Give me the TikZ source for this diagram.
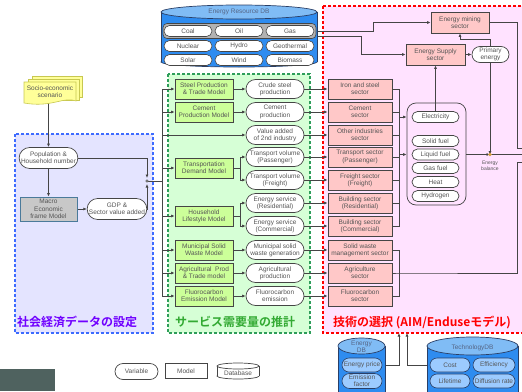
\documentclass[tikz,border=0pt]{standalone}
\usepackage{fontspec}
\setmainfont{Liberation Sans}
\newfontfamily\jpfont{Noto Sans CJK JP}[BoldFont={Noto Sans CJK JP Bold}]
\usetikzlibrary{shapes.misc,arrows.meta,calc}
\definecolor{txtgray}{HTML}{555555}
\definecolor{edge}{HTML}{454545}
\definecolor{modelg}{HTML}{CCFF99}
\definecolor{secpink}{HTML}{FFC8C8}
\definecolor{blueR}{HTML}{3D6BFF}
\definecolor{blueF}{HTML}{E4E4FF}
\definecolor{greenR}{HTML}{2E9E5A}
\definecolor{greenF}{HTML}{D6FFD6}
\definecolor{redR}{HTML}{FF0000}
\definecolor{redF}{HTML}{FFE2FF}
\definecolor{dbblue}{HTML}{2E8CF0}
\definecolor{dbtop}{HTML}{80BCF5}
\definecolor{dbedge}{HTML}{2A3F66}
\definecolor{dblight}{HTML}{9CCBFF}
\definecolor{docY}{HTML}{FFFF99}
\definecolor{docE}{HTML}{C8C850}
\definecolor{macroF}{HTML}{C8C8C8}
\definecolor{macroE}{HTML}{4A7A9A}
\definecolor{photo}{HTML}{4F625F}
\definecolor{jpPurple}{HTML}{7000FF}
\definecolor{jpGreen}{HTML}{33AA33}
\definecolor{ebc}{HTML}{D4A040}
\pgfdeclarelayer{bg}
\pgfdeclarelayer{links}
\pgfsetlayers{bg,links,main}
\begin{document}
\begin{tikzpicture}[x=1pt,y=-1pt,
  base/.style={font=\fontsize{6.5}{7.3}\selectfont, text=txtgray, align=center, inner sep=0pt},
  var/.style={base, rounded rectangle, draw=edge, fill=white, line width=0.7pt, minimum width=58pt, minimum height=19pt},
  model/.style={base, rectangle, draw=edge, fill=modelg, line width=0.7pt, minimum width=58pt, minimum height=20pt},
  sector/.style={base, rectangle, draw=edge, fill=secpink, line width=0.7pt, minimum width=64pt, minimum height=20pt},
  fuel/.style={base, rounded rectangle, draw=edge, fill=white, line width=0.7pt, minimum width=47pt, minimum height=11pt},
  respill/.style={base, rounded rectangle, draw=edge, fill=white, line width=0.6pt, minimum width=48pt, minimum height=11pt},
  dbpill/.style={base, rounded rectangle, draw=dbedge, fill=dblight, line width=0.6pt, minimum width=40pt, minimum height=14pt},
  arr/.style={draw=edge, line width=0.7pt, -{Latex[length=3.5pt,width=3pt]}},
  link/.style={draw=edge, line width=0.7pt},
  region/.style={line width=1.2pt, dash pattern=on 3pt off 2pt},
  jp/.style={anchor=west, inner sep=0pt, font=\jpfont\bfseries\fontsize{12}{12}\selectfont}
]
\useasboundingbox (0,0) rectangle (522,391);

% regions
\begin{pgfonlayer}{bg}
\draw[region, draw=blueR, fill=blueF] (15,134) rectangle (153,333);
\draw[region, draw=greenR, fill=greenF] (168,74) rectangle (310,333);
\draw[region, draw=redR, fill=redF] (323,6) rectangle (545,333);
\end{pgfonlayer}

\node[jp, text=jpPurple] at (17,322) {社会経済データの設定};
\node[jp, text=jpGreen] at (175,322) {サービス需要量の推計};
\node[jp, text=redR] at (333,322) {技術の選択 (AIM/Enduseモデル)};

% photo fragment
\fill[photo] (0,369) rectangle (55,391);

% socio-economic scenario (stacked documents)
\draw[fill=docY, draw=docE, line width=0.6pt] (32,76) rectangle (82,97);
\draw[fill=docY, draw=docE, line width=0.6pt] (28,79) rectangle (79,100);
\draw[fill=docY, draw=docE, line width=0.6pt] (24,82) -- (76,82) -- (76,101) .. controls (64,96) and (52,108) .. (24,103) -- cycle;
\node[base] (scen) at (50,92) {Socio-economic\\scenario};

% socio-economic block
\node[var, minimum width=57pt, minimum height=21pt] (pop) at (48.5,158) {Population \&\\Household number};
\node[base, rectangle, draw=macroE, fill=macroF, line width=0.8pt, minimum width=57pt, minimum height=24pt] (macro) at (48.5,209) {Macro\\Economic\\frame Model};
\node[var, minimum height=21pt] (gdp) at (117,209) {GDP \&\\Sector value added};
\coordinate (j) at (147,181);
\coordinate (jt) at (147,178);
\coordinate (jb) at (147,184);
\coordinate (busT) at (162,89);
\coordinate (busB) at (162,296);

% Energy resource DB
\draw[fill=dbblue, draw=dbedge, line width=0.7pt] (239,62) ellipse [x radius=78pt, y radius=5pt];
\fill[dbblue] (161,12) rectangle (317,62);
\draw[dbedge, line width=0.7pt] (161,12) -- (161,62) (317,12) -- (317,62);
\draw[fill=dbtop, draw=dbedge, line width=0.7pt] (239,12) ellipse [x radius=78pt, y radius=7pt];
\node[base, text=dbedge!80] at (239,12) {Energy Resource DB};
\node[draw=edge, fill=gray!60, line width=0.6pt, rounded corners=4pt, minimum width=153pt, minimum height=15pt, inner sep=0pt] (row1) at (239.5,31) {};
\node[respill] at (188,31) {Coal};
\node[respill] at (239,31) {Oil};
\node[respill] at (290,31) {Gas};
\node[respill] at (188,46) {Nuclear};
\node[respill] at (239,46) {Hydro};
\node[respill] at (290,46) {Geothermal};
\node[respill] at (188,60) {Solar};
\node[respill] at (239,60) {Wind};
\node[respill] at (290,60) {Biomass};

% models
\node[model] (steelM) at (204,89) {Steel Production\\\& Trade Model};
\node[model] (cementM) at (204,112) {Cement\\Production Model};
\node[model] (transM) at (204,168) {Transportation\\Demand Model};
\node[model] (houseM) at (204,216) {Household\\Lifestyle Model};
\node[model] (mswM) at (204,250) {Municipal Solid\\Waste Model};
\node[model] (agriM) at (204,273) {Agricultural\ \ Prod\\\& Trade model};
\node[model] (fluoroM) at (204,296) {Fluorocarbon\\Emission Model};

% variables
\node[var] (crude) at (275,89) {Crude steel\\production};
\node[var] (cementP) at (275,112) {Cement\\production};
\node[var] (valueP) at (275,135) {Value added\\of 2nd industry};
\node[var] (tpP) at (275,157) {Transport volume\\(Passenger)};
\node[var] (tfP) at (275,180) {Transport volume\\(Freight)};
\node[var] (erP) at (275,203) {Energy service\\(Residential)};
\node[var] (ecP) at (275,226) {Energy service\\(Commercial)};
\node[var] (mswP) at (275,250) {Municipal solid\\waste generation};
\node[var] (agriP) at (275,273) {Agricultural\\production};
\node[var] (fluoroP) at (275,296) {Fluorocarbon\\emission};

% sectors
\node[sector] (ironS) at (360,89) {Iron and steel\\sector};
\node[sector] (cementS) at (360,112) {Cement\\sector};
\node[sector] (otherS) at (360,135) {Other industries\\sector};
\node[sector] (tpS) at (360,157) {Transport sector\\(Passenger)};
\node[sector] (frS) at (360,180) {Freight sector\\(Freight)};
\node[sector] (brS) at (360,203) {Building sector\\(Residential)};
\node[sector] (bcS) at (360,226) {Building sector\\(Commercial)};
\node[sector] (swS) at (360,250) {Solid waste\\management sector};
\node[sector] (agS) at (360,273) {Agriculture\\sector};
\node[sector] (flS) at (360,296) {Fluorocarbon\\sector};

% energy supply side
\node[sector, minimum width=59pt, minimum height=21pt] (supply) at (435.5,54.5) {Energy Supply\\sector};
\node[sector, minimum width=58pt, minimum height=21pt] (mining) at (460,22.5) {Energy mining\\sector};
\node[var, minimum width=37pt, minimum height=16pt] (primary) at (490.5,54.5) {Primary\\energy};

% energy carrier group
\node[draw=edge, line width=0.7pt, rounded corners=9pt, minimum width=59pt, minimum height=102pt, inner sep=0pt] (grp) at (436.5,154) {};
\node[fuel] (elec) at (435.5,117) {Electricity};
\node[fuel] (solid) at (435.5,141) {Solid fuel};
\node[fuel] (liquid) at (435.5,154.5) {Liquid fuel};
\node[fuel] (gas) at (435.5,168) {Gas fuel};
\node[fuel] (heat) at (435.5,182) {Heat};
\node[fuel] (hydro) at (435.5,196) {Hydrogen};

\coordinate (eb) at (490,154.5);
\coordinate (mid) at (490,39);
\coordinate (ebR) at (530,154.5);
\coordinate (mR) at (517,148);
\coordinate (mR2) at (530,148);
\coordinate (ubT) at (399,89);
\coordinate (ubB) at (399,226);
\coordinate (lbT) at (399,250);
\coordinate (lbB) at (399,296);
\coordinate (lbM) at (399,273);
\coordinate (offA) at (517,273);
\coordinate (offB) at (517,162);
\coordinate (offC) at (530,162);
\coordinate (inE) at (399,333);
\coordinate (inT) at (407,333);
\coordinate (techL) at (427,365);

\node[base, font=\fontsize{5}{6}\selectfont] at (490,166) {Energy\\balance};

% Energy DB
\fill[dbblue] (338,346) rectangle (385,400);
\draw[dbedge, line width=0.7pt] (338,346) -- (338,400) (385,346) -- (385,400);
\draw[fill=dbtop, draw=dbedge, line width=0.7pt] (361.5,346) ellipse [x radius=23.5pt, y radius=8pt];
\node[base, text=dbedge!80] at (361.5,347) {Energy\\DB};
\node[dbpill] (eprice) at (362,365) {Energy price};
\node[dbpill, minimum height=15pt] (efac) at (362,381) {Emission\\factor};

% Technology DB
\fill[dbblue] (427,346) rectangle (518,400);
\draw[dbedge, line width=0.7pt] (427,346) -- (427,400) (518,346) -- (518,400);
\draw[fill=dbtop, draw=dbedge, line width=0.7pt] (472.5,346) ellipse [x radius=45.5pt, y radius=9pt];
\node[base, text=dbedge!80] at (472.5,348) {TechnologyDB};
\node[dbpill] (cost) at (450,365) {Cost};
\node[dbpill, minimum width=42pt] (eff) at (494,365) {Efficiency};
\node[dbpill] (life) at (450,381) {Lifetime};
\node[dbpill, minimum width=42pt] (diff) at (494,381) {Diffusion rate};

% legend
\node[var, minimum width=43pt, minimum height=16pt] (legV) at (136.5,371.5) {Variable};
\node[base, draw=edge, line width=0.7pt, fill=white, minimum width=42pt, minimum height=15pt] (legM) at (186,371) {Model};
\draw[edge, fill=white, line width=0.7pt] (238,376) ellipse [x radius=21pt, y radius=3pt];
\fill[white] (217,366) rectangle (259,376);
\draw[edge, line width=0.7pt] (217,366) -- (217,376) (259,366) -- (259,376);
\draw[edge, fill=white, line width=0.7pt] (238,366) ellipse [x radius=21pt, y radius=3pt];
\node[base] (legD) at (238,373) {Database};

% connectors
\begin{pgfonlayer}{links}
\draw[arr] (scen.south -| pop.north) -- (pop.north);
\draw[arr] (pop.south) -- (macro.north);
\draw[arr] (macro.east) -- (gdp.west);
\draw[arr] (pop.east) -| (jt);
\draw[arr] (gdp.east) -| (jb);
\draw[link] (j) -- (j -| busT);
\draw[link] (busT) -- (busB);
\draw[arr] (busT |- steelM) -- (steelM.west);
\draw[arr] (busT |- cementM) -- (cementM.west);
\draw[arr] (busT |- valueP) -- (valueP.west);
\draw[arr] (busT |- transM) -- (transM.west);
\draw[arr] (busT |- houseM) -- (houseM.west);
\draw[arr] (busT |- mswM) -- (mswM.west);
\draw[arr] (busT |- agriM) -- (agriM.west);
\draw[arr] (busT |- fluoroM) -- (fluoroM.west);

\draw[arr] (steelM.east) -- (crude.west);
\draw[arr] (cementM.east) -- (cementP.west);
\draw[arr] (transM.east) -- ++(7,0) |- (tpP.west);
\draw[arr] (transM.east) -- ++(7,0) |- (tfP.west);
\draw[arr] (houseM.east) -- ++(7,0) |- (erP.west);
\draw[arr] (houseM.east) -- ++(7,0) |- (ecP.west);
\draw[arr] (mswM.east) -- (mswP.west);
\draw[arr] (agriM.east) -- (agriP.west);
\draw[arr] (fluoroM.east) -- (fluoroP.west);

\draw[arr] (crude.east) -- (ironS.west);
\draw[arr] (cementP.east) -- (cementS.west);
\draw[arr] (valueP.east) -- (otherS.west);
\draw[arr] (tpP.east) -- (tpS.west);
\draw[arr] (tfP.east) -- (frS.west);
\draw[arr] (erP.east) -- (brS.west);
\draw[arr] (ecP.east) -- (bcS.west);
\draw[arr] (mswP.east) -- (swS.west);
\draw[arr] (agriP.east) -- (agS.west);
\draw[arr] (fluoroP.east) -- (flS.west);

% sector buses
\draw[link] (ironS.east) -- (ubT) -- (ubB) -- (bcS.east);
\draw[link] (cementS.east) -- (ubT |- cementS);
\draw[link] (otherS.east) -- (ubT |- otherS);
\draw[link] (tpS.east) -- (ubT |- tpS);
\draw[link] (frS.east) -- (ubT |- frS);
\draw[link] (brS.east) -- (ubT |- brS);
\draw[arr] (ubT |- elec) -- (grp.west |- elec);
\draw[arr] (ubT |- eb) -- (grp.west |- eb);
\draw[link] (swS.east) -- (lbT) -- (lbB) -- (flS.east);
\draw[link] (agS.east) -- (lbM) -- (offA) -- (offB) -- (offC);

% supply side
\draw[arr] (row1.east) -- ++(57,0) |- (mining.west);
\draw[arr] ([yshift=-5pt]row1.east) -- ++(45,0) |- (supply.west);
\draw[arr] (elec.north) -- (supply.south);
\draw[arr] (supply.east) -- (primary.west);
\draw[{Latex[length=3.5pt,width=3pt]}-{Latex[length=3.5pt,width=3pt]}, draw=edge, line width=0.7pt] (eb) -- (mid) -| (mining.south);
\draw[arr] (grp.east |- eb) -- (eb);
\draw[link] (eb) -- (ebR);
\draw[link] (mining.east) -| (mR) -- (mR2);

% DB inputs
\draw[arr] (eprice.east) -| (inE);
\draw[arr] (techL) -| (inT);
\end{pgfonlayer}
\fill[ebc] (eb) circle[radius=1.8pt];
\draw[fill=white, draw=edge, line width=0.5pt] (j) circle[radius=1.3pt];
\end{tikzpicture}
\end{document}
